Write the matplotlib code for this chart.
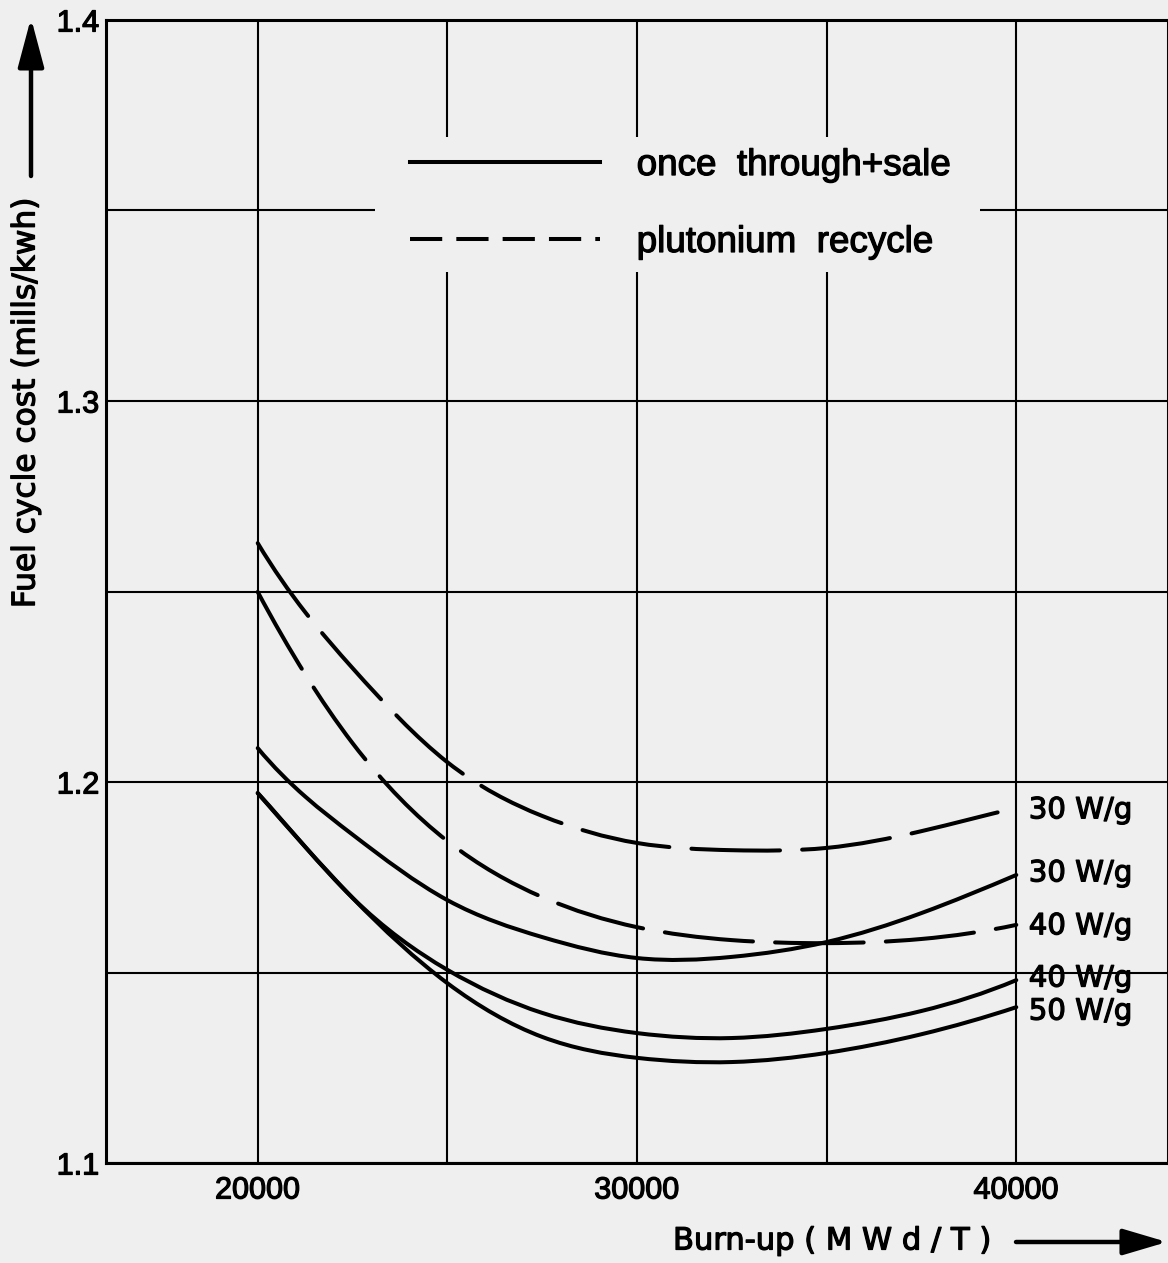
import matplotlib
matplotlib.use("Agg")
import matplotlib.pyplot as plt
import matplotlib.patheffects as pe
import numpy as np
from matplotlib.path import Path
from matplotlib.patches import PathPatch, Rectangle, FancyArrowPatch
from matplotlib.lines import Line2D

# ---- data -------------------------------------------------------------
burnup = [20000, 21250, 22500, 25000, 27500, 30000, 32500, 35000, 37500, 40000]

recycle_30 = [1.2627, 1.2446, 1.2299, 1.2052, 1.1911, 1.1840, 1.1821, 1.1827, 1.1871, 1.1932]
recycle_40 = [1.2499, 1.2283, 1.2102, 1.1845, 1.1698, 1.1619, 1.1585, 1.1577, 1.1588, 1.1625]
once_30 = [1.2089, 1.1962, 1.1862, 1.1690, 1.1593, 1.1538, 1.1541, 1.1580, 1.1656, 1.1756]
once_40 = [1.1971, 1.1830, 1.1696, 1.1507, 1.1394, 1.1341, 1.1328, 1.1352, 1.1399, 1.1480]
once_50 = [1.1971, 1.1830, 1.1696, 1.1472, 1.1331, 1.1276, 1.1265, 1.1289, 1.1338, 1.1409]

curve_labels = ["30 W/g", "40 W/g", "30 W/g", "40 W/g", "50 W/g"]
legend_labels = ["once  through+sale", "plutonium  recycle"]

x_ticks = [20000, 30000, 40000]
x_minor = [25000, 35000]
x_ticklabels = ["20000", "30000", "40000"]
y_ticks = [1.1, 1.2, 1.3, 1.4]
y_minor = [1.15, 1.25, 1.35]
y_ticklabels = ["1.1", "1.2", "1.3", "1.4"]

# ---- styling ----------------------------------------------------------
BG = "#efefef"
W, H = 1168, 1263
LW_CURVE = 2.9
DASH = (0, (22, 5.5))
LEGEND_DASH = (0, (8, 3.5))
# small vertical nudges (pixels) for the end-of-curve labels
label_nudge_px = [0, -1, -4, -4, 2]
INK = [pe.withStroke(linewidth=0.9, foreground="black")]


def fx(px):
    return px / W


def fy(py):
    return 1 - py / H


def spline_path(x, y):
    """Not-a-knot cubic spline through the points, as Bezier segments."""
    x = np.asarray(x, float)
    y = np.asarray(y, float)
    n = len(x) - 1
    h = np.diff(x)
    A = np.zeros((n + 1, n + 1))
    r = np.zeros(n + 1)
    # not-a-knot end conditions (third derivative continuous at x1, x_{n-1})
    A[0, 0], A[0, 1], A[0, 2] = h[1], -(h[0] + h[1]), h[0]
    A[n, n - 2], A[n, n - 1], A[n, n] = h[n - 1], -(h[n - 2] + h[n - 1]), h[n - 2]
    for i in range(1, n):
        A[i, i - 1] = h[i - 1]
        A[i, i] = 2 * (h[i - 1] + h[i])
        A[i, i + 1] = h[i]
        r[i] = 6 * ((y[i + 1] - y[i]) / h[i] - (y[i] - y[i - 1]) / h[i - 1])
    M = np.linalg.solve(A, r)
    d = np.empty(n + 1)
    for i in range(n):
        d[i] = (y[i + 1] - y[i]) / h[i] - h[i] * (2 * M[i] + M[i + 1]) / 6
    d[n] = (y[n] - y[n - 1]) / h[n - 1] + h[n - 1] * (M[n - 1] + 2 * M[n]) / 6

    verts = [(x[0], y[0])]
    codes = [Path.MOVETO]
    for i in range(n):
        verts += [(x[i] + h[i] / 3, y[i] + d[i] * h[i] / 3),
                  (x[i + 1] - h[i] / 3, y[i + 1] - d[i + 1] * h[i] / 3),
                  (x[i + 1], y[i + 1])]
        codes += [Path.CURVE4] * 3
    return Path(verts, codes)


fig = plt.figure(figsize=(W / 100, H / 100), dpi=100, facecolor=BG)
ax = fig.add_axes([fx(106), fy(1163), fx(1168) - fx(106), fy(20) - fy(1163)])
ax.set_facecolor(BG)

ax.set_xlim(16000, 44000)
ax.set_ylim(1.1, 1.4)

ax.set_xticks(x_ticks)
ax.set_xticks(x_minor, minor=True)
ax.set_xticklabels(x_ticklabels, fontfamily="Liberation Sans", fontsize=22)
ax.set_yticks(y_ticks)
ax.set_yticks(y_minor, minor=True)
ax.set_yticklabels(y_ticklabels, fontfamily="Liberation Sans", fontsize=22)
ax.tick_params(which="both", length=0)
ax.tick_params(axis="x", pad=9)
ax.tick_params(axis="y", pad=5)
for t in ax.get_xticklabels() + ax.get_yticklabels():
    t.set_path_effects(INK)

ax.set_axisbelow(True)
ax.grid(True, which="both", color="black", lw=1.5)
for s in ax.spines.values():
    s.set_linewidth(2.2)
    s.set_color("black")

# curves
series = [
    (recycle_30, DASH),
    (recycle_40, DASH),
    (once_30, "solid"),
    (once_40, "solid"),
    (once_50, "solid"),
]
for (vals, ls), lab, nudge in zip(series, curve_labels, label_nudge_px):
    patch = PathPatch(spline_path(burnup, vals), fill=False, edgecolor="black",
                      lw=LW_CURVE, linestyle=ls, capstyle="round",
                      joinstyle="round", zorder=3)
    ax.add_patch(patch)
    ax.annotate(lab, xy=(burnup[-1], vals[-1]),
                xytext=(9, -7.5 - nudge * 0.72),
                textcoords="offset points", ha="left", va="baseline",
                fontsize=21, fontfamily="DejaVu Sans", zorder=4,
                annotation_clip=False, path_effects=INK)

# legend backdrop hiding the grid
ax.add_patch(Rectangle((0.2533, 0.7795), 0.5697, 0.1181, transform=ax.transAxes,
                       facecolor=BG, edgecolor="none", zorder=1))
handles = [Line2D([], [], color="black", lw=LW_CURVE),
           Line2D([], [], color="black", lw=LW_CURVE, linestyle=LEGEND_DASH)]
leg = ax.legend(handles, legend_labels, loc="upper left",
                bbox_to_anchor=(0.2862, 0.8880), frameon=False,
                handlelength=5.16, handletextpad=1.0, labelspacing=1.14,
                borderpad=0, borderaxespad=0,
                prop={"family": "Liberation Sans", "size": 26.5})
leg.set_zorder(5)
for t in leg.get_texts():
    t.set_path_effects(INK)

# axis titles with arrows
fig.text(fx(26), fy(403), "Fuel cycle cost (mills/kwh)", rotation=90,
         ha="center", va="center", fontsize=22.5, fontfamily="DejaVu Sans",
         path_effects=INK)
fig.text(fx(673), fy(1241), "Burn-up ( M W d / T )", ha="left", va="center",
         fontsize=22, fontfamily="DejaVu Sans", path_effects=INK)

fig.add_artist(FancyArrowPatch((fx(31), fy(176)), (fx(31), fy(18)),
                               transform=fig.transFigure,
                               arrowstyle="-|>,head_length=3.0,head_width=0.8",
                               mutation_scale=10, lw=3.2, color="black",
                               shrinkA=0, shrinkB=0))
fig.add_artist(FancyArrowPatch((fx(1016), fy(1242)), (fx(1167), fy(1242)),
                               transform=fig.transFigure,
                               arrowstyle="-|>,head_length=2.7,head_width=0.8",
                               mutation_scale=10, lw=3.2, color="black",
                               shrinkA=0, shrinkB=0))

fig.savefig("out.png", dpi=100, facecolor=BG)
